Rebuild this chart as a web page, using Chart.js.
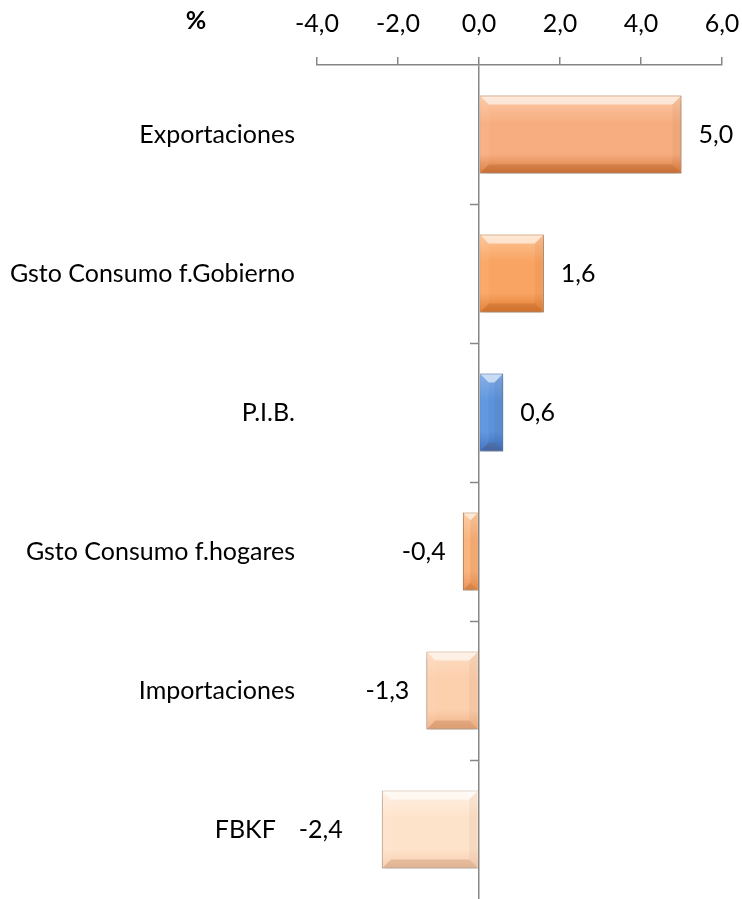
<!DOCTYPE html>
<html lang="es">
<head>
    <meta charset="UTF-8">
    <title>Contribución al crecimiento</title>
    <script src="https://cdn.jsdelivr.net/npm/chart.js"></script>
    <style>
        html, body { margin: 0; padding: 0; background: #fff; overflow: hidden; }
        #grafico { display: block; }
    </style>
</head>
<body>
    <canvas id="grafico" width="742" height="899"></canvas>
    <script>
        // datos
        const categorias = ['Exportaciones', 'Gsto Consumo f.Gobierno', 'P.I.B.', 'Gsto Consumo f.hogares', 'Importaciones', 'FBKF'];
        const valores = [5.0, 1.6, 0.6, -0.4, -1.3, -2.4];
        const ticksX = [-4, -2, 0, 2, 4, 6];

        // colores de cada barra: [claro, base, oscuro, borde]
        const colores = [
            ['#fcc9a6', '#f7ad80', '#d9783b', '#a95c2b'],
            ['#fcc496', '#f9a462', '#e07b31', '#ad632a'],
            ['#7fabe6', '#5a92dc', '#3a6cbd', '#2f5a96'],
            ['#fccaa0', '#f9b077', '#e98f4e', '#b87441'],
            ['#fddcc2', '#fccfad', '#f0b186', '#c59673'],
            ['#fff0e3', '#fee3cb', '#f6cdae', '#c9ab93']
        ];

        const fuente = "Lato, 'Open Sans', sans-serif";
        const tam = 25;
        const fmt = v => v.toFixed(1).replace('.', ',');

        function relleno(ctx) {
            const chart = ctx.chart;
            const c = colores[ctx.dataIndex];
            const ys = chart.scales.y;
            if (!chart.chartArea || !ys) return c[1];
            const centro = ys.getPixelForValue(ctx.dataIndex);
            const h = 39;
            const g = chart.ctx.createLinearGradient(0, centro - h, 0, centro + h);
            g.addColorStop(0, c[0]);
            g.addColorStop(0.35, c[1]);
            g.addColorStop(0.75, c[1]);
            g.addColorStop(1, c[2]);
            return g;
        }

        // biselado de las barras
        function bisel(ctx, bar) {
            const l = Math.min(bar.x, bar.base) + 1, r = Math.max(bar.x, bar.base) - 1;
            const t = bar.y - bar.height / 2 + 1, b = bar.y + bar.height / 2 - 1;
            const s = Math.min(8, (r - l) / 2);
            const cara = (pts, color) => {
                ctx.beginPath();
                ctx.moveTo(pts[0][0], pts[0][1]);
                pts.slice(1).forEach(p => ctx.lineTo(p[0], p[1]));
                ctx.closePath();
                ctx.fillStyle = color;
                ctx.fill();
            };
            cara([[l, t], [r, t], [r - s, t + s], [l + s, t + s]], 'rgba(255,255,255,0.6)');
            cara([[l, b], [r, b], [r - s, b - s], [l + s, b - s]], 'rgba(120,50,0,0.16)');
            cara([[l, t], [l + s, t + s], [l + s, b - s], [l, b]], 'rgba(255,255,255,0.06)');
            cara([[r, t], [r - s, t + s], [r - s, b - s], [r, b]], 'rgba(90,40,0,0.05)');
        }

        const extras = {
            id: 'extras',
            beforeDatasetsDraw(chart) {
                const ctx = chart.ctx;
                ctx.save();
                ctx.shadowColor = 'rgba(0,0,0,0.28)';
                ctx.shadowBlur = 6;
                ctx.shadowOffsetY = 4;
            },
            afterDatasetsDraw(chart) {
                const ctx = chart.ctx;
                ctx.restore();
                const meta = chart.getDatasetMeta(0);
                ctx.save();
                meta.data.forEach(bar => bisel(ctx, bar));
                ctx.restore();

                const x0 = chart.scales.x.getPixelForValue(0);
                const ys = chart.scales.y;
                // marcas del eje de categorías
                ctx.save();
                ctx.strokeStyle = '#868686';
                ctx.lineWidth = 1.5;
                for (let i = 1; i < categorias.length; i++) {
                    const y = Math.round((ys.getPixelForValue(i - 1) + ys.getPixelForValue(i)) / 2) + 0.5;
                    ctx.beginPath();
                    ctx.moveTo(x0 - 9, y);
                    ctx.lineTo(x0, y);
                    ctx.stroke();
                }
                // etiquetas de valores
                ctx.fillStyle = '#000';
                ctx.font = tam + 'px ' + fuente;
                ctx.textBaseline = 'middle';
                meta.data.forEach((bar, i) => {
                    const v = valores[i];
                    if (v >= 0) {
                        ctx.textAlign = 'left';
                        ctx.fillText(fmt(v), bar.x + 17, bar.y);
                    } else {
                        ctx.textAlign = 'right';
                        const sep = categorias[i] === 'FBKF' ? 39 : 17;
                        ctx.fillText(fmt(v), bar.x - sep, bar.y);
                    }
                });
                // unidad
                ctx.font = 'bold ' + tam + 'px ' + fuente;
                ctx.textAlign = 'center';
                ctx.fillText('%', 196, 21);
                ctx.restore();
            }
        };

        new Chart(document.getElementById('grafico'), {
            type: 'bar',
            data: {
                labels: categorias.map(c => c === 'FBKF' ? 'FBKF   ' : c),
                datasets: [{
                    data: valores,
                    backgroundColor: relleno,
                    borderColor: colores.map(c => c[3]),
                    borderWidth: 1,
                    barPercentage: 0.56,
                    categoryPercentage: 1
                }]
            },
            options: {
                indexAxis: 'y',
                responsive: false,
                animation: false,
                layout: { padding: { right: 20, top: 0, bottom: 0, left: 0 } },
                plugins: {
                    legend: { display: false },
                    tooltip: { enabled: false }
                },
                scales: {
                    x: {
                        position: 'top',
                        min: -4,
                        max: 6,
                        afterBuildTicks: s => { s.ticks = ticksX.map(v => ({ value: v })); },
                        afterFit: s => {
                            s.height = 65;
                            s.paddingLeft = 0;
                            s.paddingRight = 0;
                        },
                        ticks: {
                            padding: 18,
                            color: '#000',
                            font: { family: fuente, size: tam },
                            callback: v => fmt(v)
                        },
                        grid: {
                            color: c => c.tick && c.tick.value === 0 ? '#868686' : 'rgba(0,0,0,0)',
                            tickColor: '#868686',
                            tickLength: 8,
                            lineWidth: 1.5
                        },
                        border: { display: true, color: '#868686', width: 1.5 }
                    },
                    y: {
                        afterFit: s => {
                            s.width = 317;
                            s.paddingTop = 0;
                            s.paddingBottom = 0;
                        },
                        ticks: {
                            padding: 22,
                            color: '#000',
                            font: { family: fuente, size: tam }
                        },
                        grid: { display: false, drawTicks: false },
                        border: { display: false }
                    }
                }
            },
            plugins: [extras]
        });
    </script>
</body>
</html>
